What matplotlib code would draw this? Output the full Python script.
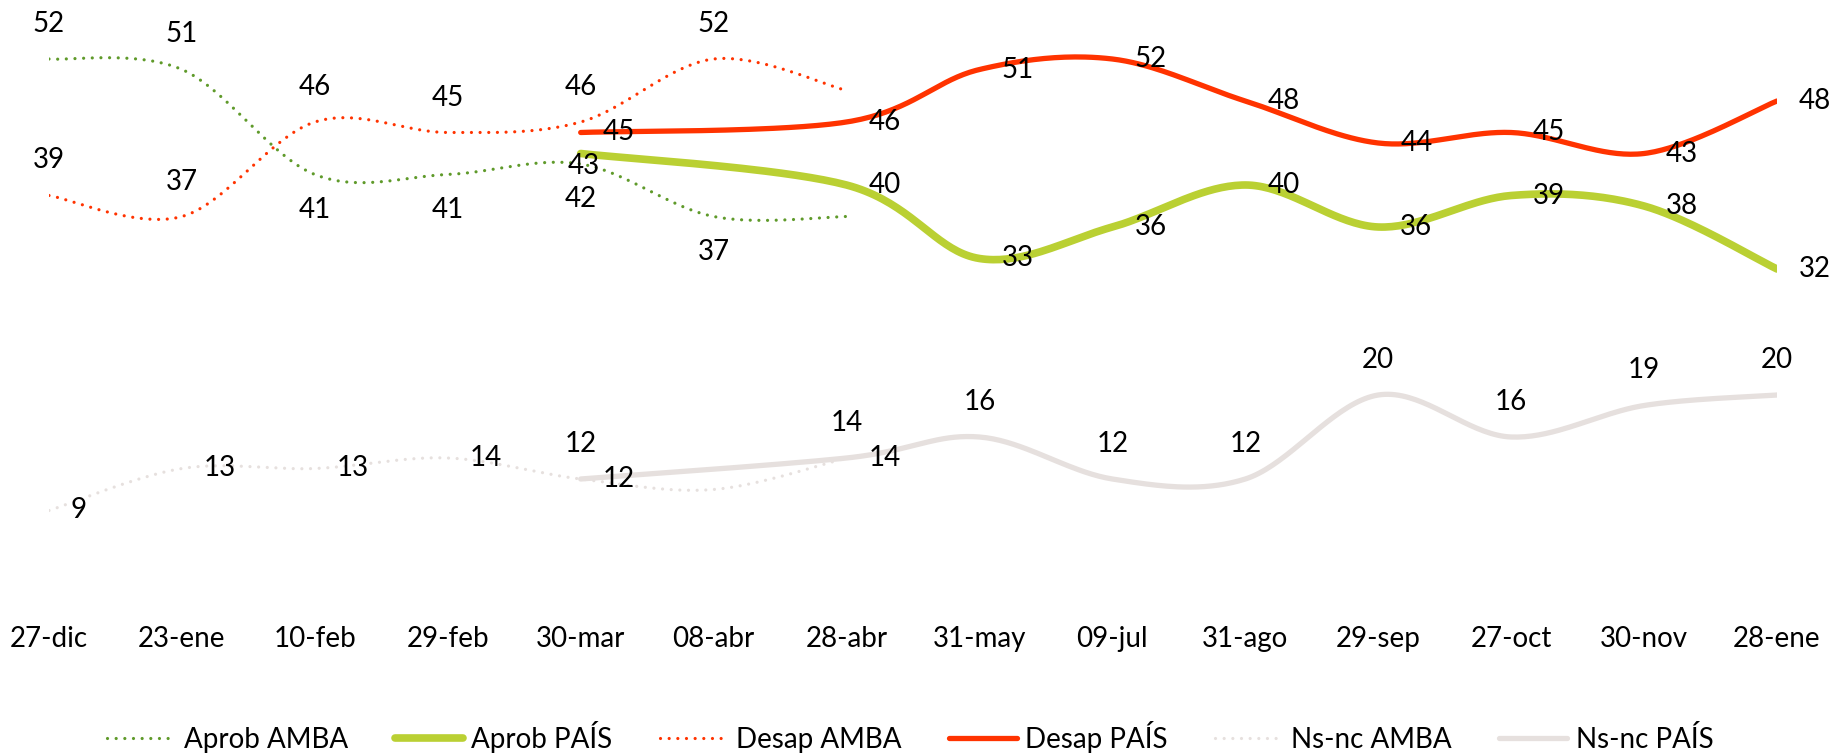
import numpy as np
import matplotlib.pyplot as plt
from matplotlib.lines import Line2D

plt.rcParams['font.family'] = ['Lato', 'DejaVu Sans']

fechas = ["27-dic", "23-ene", "10-feb", "29-feb", "30-mar", "08-abr", "28-abr",
          "31-may", "09-jul", "31-ago", "29-sep", "27-oct", "30-nov", "28-ene"]

# AMBA series cover the first 7 dates
amba_idx = [0, 1, 2, 3, 4, 5, 6]
aprob_amba = [52, 51, 41, 41, 42, 37, 37]
desap_amba = [39, 37, 46, 45, 46, 52, 49]
nsnc_amba = [9, 13, 13, 14, 12, 11, 14]

# PAIS series start at 30-mar, no point at 08-abr (line joins the gap)
pais_idx = [4, 6, 7, 8, 9, 10, 11, 12, 13]
aprob_pais = [43, 40, 33, 36, 40, 36, 39, 38, 32]
desap_pais = [45, 46, 51, 52, 48, 44, 45, 43, 48]
nsnc_pais = [12, 14, 16, 12, 12, 20, 16, 19, 20]

# where each data label sits (None = no label)
lab_aprob_amba = ["a", "a", "b", "b", "b", "b", None]
lab_desap_amba = ["a", "a", "a", "a", "a", "a", None]
lab_nsnc_amba = ["r", "r", "r", "r", "r", None, "r"]
lab_aprob_pais = ["c", "r", "r", "r", "r", "r", "r", "r", "r"]
lab_desap_pais = ["r"] * 9
lab_nsnc_pais = ["a"] * 9

ROJO = "#FF3300"
VERDE = "#BAD033"
OLIVA = "#5F9A2A"
GRIS = "#E6E0DE"


def smooth(x, y, n=40):
    # excel-like smoothed line (catmull-rom as cubic bezier)
    x = np.asarray(x, float)
    y = np.asarray(y, float)
    px = np.concatenate([[x[0]], x, [x[-1]]])
    py = np.concatenate([[y[0]], y, [y[-1]]])
    t = np.linspace(0, 1, n)[:, None]
    xs, ys = [], []
    for i in range(1, len(px) - 2):
        p0 = np.array([px[i], py[i]])
        p3 = np.array([px[i + 1], py[i + 1]])
        c1 = p0 + (np.array([px[i + 1], py[i + 1]]) - np.array([px[i - 1], py[i - 1]])) / 6
        c2 = p3 - (np.array([px[i + 2], py[i + 2]]) - np.array([px[i], py[i]])) / 6
        pts = ((1 - t) ** 3) * p0 + 3 * ((1 - t) ** 2) * t * c1 + 3 * (1 - t) * t ** 2 * c2 + t ** 3 * p3
        xs.append(pts[:, 0])
        ys.append(pts[:, 1])
    return np.concatenate(xs), np.concatenate(ys)


fig = plt.figure(figsize=(18.35, 7.53), dpi=100)
ax = fig.add_axes([49 / 1835, (753 - 605) / 753, 1728 / 1835, 57 * 10.5 / 753])

dotted = dict(linestyle=(0, (0.01, 2.7)), dash_capstyle="round", linewidth=2.3)
FS = 20

series = [
    (amba_idx, aprob_amba, lab_aprob_amba, dict(color=OLIVA, **dotted)),
    (pais_idx, aprob_pais, lab_aprob_pais, dict(color=VERDE, linewidth=5.5, solid_capstyle="round")),
    (amba_idx, desap_amba, lab_desap_amba, dict(color=ROJO, **dotted)),
    (pais_idx, desap_pais, lab_desap_pais, dict(color=ROJO, linewidth=3.8, solid_capstyle="round")),
    (amba_idx, nsnc_amba, lab_nsnc_amba, dict(color=GRIS, **dotted)),
    (pais_idx, nsnc_pais, lab_nsnc_pais, dict(color=GRIS, linewidth=3.8, solid_capstyle="round")),
]

offs = {"a": (0, 35, "center"), "b": (0, -35, "center"),
        "r": (22, 0, "left"), "c": (3, -13, "center")}

for xx, vals, labs, style in series:
    sx, sy = smooth(xx, vals)
    ax.plot(sx, sy, **style)
    for xi, v, pos in zip(xx, vals, labs):
        if pos is None:
            continue
        dx, dy, ha = offs[pos]
        ax.annotate(str(v), (xi, v), xytext=(dx, dy), textcoords="offset pixels",
                    ha=ha, va="center", fontsize=FS, color="black", annotation_clip=False)

ax.set_xlim(0, 13)
ax.set_ylim(0, 57)
ax.set_xticks(range(len(fechas)))
ax.set_xticklabels(fechas, fontsize=FS)
ax.set_yticks([])
ax.tick_params(axis="x", length=0, pad=15)
for s in ax.spines.values():
    s.set_visible(False)

handles = [
    Line2D([], [], color=OLIVA, **dotted),
    Line2D([], [], color=VERDE, linewidth=5.5, solid_capstyle="round"),
    Line2D([], [], color=ROJO, **dotted),
    Line2D([], [], color=ROJO, linewidth=3.8, solid_capstyle="round"),
    Line2D([], [], color=GRIS, **dotted),
    Line2D([], [], color=GRIS, linewidth=3.8, solid_capstyle="round"),
]
nombres = ["Aprob AMBA", "Aprob PAÍS", "Desap AMBA", "Desap PAÍS", "Ns-nc AMBA", "Ns-nc PAÍS"]
fig.legend(handles, nombres, loc="center", bbox_to_anchor=(0.496, 1 - 737 / 753), ncol=6,
           frameon=False, fontsize=FS, handlelength=2.45, handletextpad=0.3, columnspacing=1.7)

fig.savefig("out.png", dpi=100)
